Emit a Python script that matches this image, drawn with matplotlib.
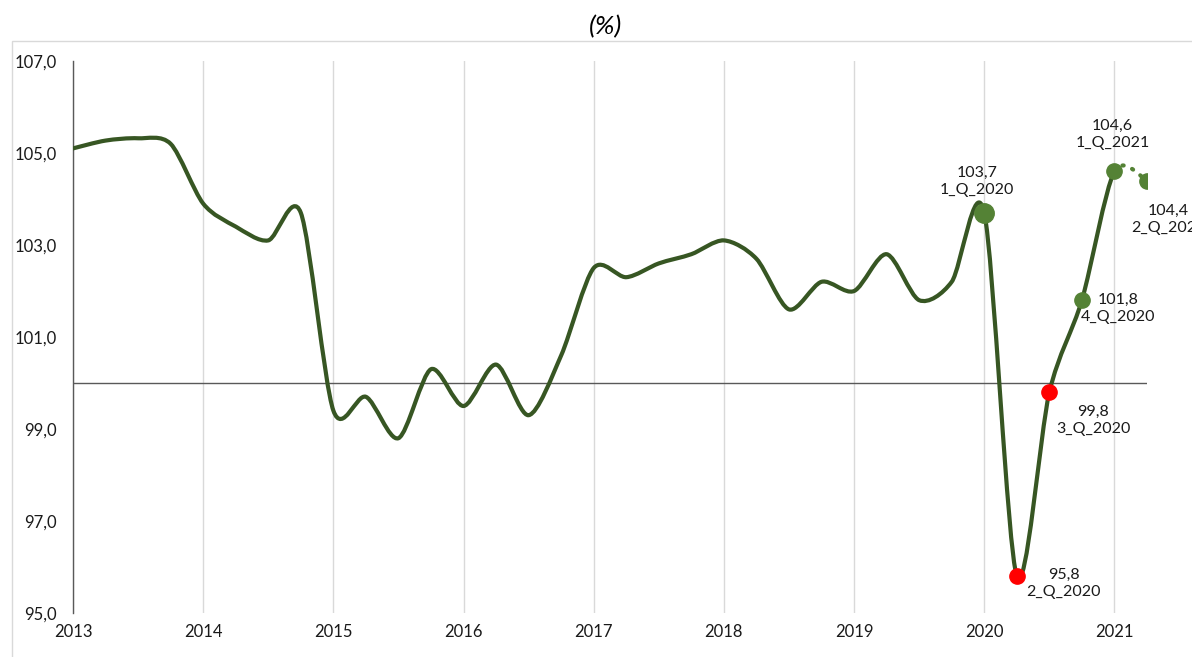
import numpy as np
import matplotlib
matplotlib.use("Agg")
import matplotlib.pyplot as plt
from matplotlib.path import Path
from matplotlib.patches import PathPatch, Rectangle

plt.rcParams['font.family'] = ['Lato', 'DejaVu Sans']

# ---- data (quarterly, starting 1st quarter 2013) ----
start_year = 2013
values = [105.1, 105.27, 105.32, 105.2,
          103.9, 103.4, 103.1, 103.7,
          99.4, 99.7, 98.8, 100.3,
          99.5, 100.4, 99.3, 100.6,
          102.5, 102.3, 102.6, 102.8,
          103.1, 102.7, 101.6, 102.2,
          102.0, 102.8, 101.8, 102.2,
          103.7, 95.8, 99.8, 101.8,
          104.6, 104.4]
year_ticks = [2013, 2014, 2015, 2016, 2017, 2018, 2019, 2020, 2021]
y_ticks = [95.0, 97.0, 99.0, 101.0, 103.0, 105.0, 107.0]
point_labels = {28: "103,7\n1_Q_2020", 29: "95,8\n2_Q_2020", 30: "99,8\n3_Q_2020",
                31: "101,8\n4_Q_2020", 32: "104,6\n1_Q_2021", 33: "104,4\n2_Q_2021"}
subtitle = "(%)"

x = start_year + 0.25 * np.arange(len(values))
y = np.array(values)

LINE = '#375623'
MGREEN = '#548235'
RED = '#FF0000'

fig = plt.figure(figsize=(11.92, 6.57), dpi=100)
# chart area border
fig.patches.append(Rectangle((12 / 1192, -0.1), 1.2, 0.1 + (657 - 41) / 657,
                             transform=fig.transFigure, fill=False,
                             edgecolor='#D9D9D9', lw=1.0, clip_on=False))
fig.text(605 / 1192, 1 - 27 / 657, subtitle, ha='center', va='center',
         fontsize=19, style='italic', color='black')

ax = fig.add_axes([73 / 1192, 1 - 613 / 657, (1147 - 73) / 1192, (613 - 61) / 657])
ax.set_xlim(2013, 2021.25)
ax.set_ylim(95, 107)

TENSION = 1 / 7.0


def smooth_path(xs, ys, i0, i1):
    n = len(xs)
    P = np.column_stack([xs, ys])
    verts = [P[i0]]
    codes = [Path.MOVETO]
    for i in range(i0, i1):
        pm = P[max(i - 1, 0)]
        p0 = P[i]
        p1 = P[i + 1]
        p2 = P[min(i + 2, n - 1)]
        c1 = p0 + (p1 - pm) * TENSION
        c2 = p1 - (p2 - p0) * TENSION
        verts += [c1, c2, p1]
        codes += [Path.CURVE4] * 3
    return Path(np.array(verts), codes)


main = smooth_path(x, y, 0, len(values) - 2)
ax.add_patch(PathPatch(main, fill=False, edgecolor=LINE, lw=3.0,
                       capstyle='round', joinstyle='round', zorder=3))
tail = smooth_path(x, y, len(values) - 2, len(values) - 1)
ax.add_patch(PathPatch(tail, fill=False, edgecolor=MGREEN, lw=3.0,
                       linestyle=(0, (0.3, 2.2)), capstyle='round', zorder=3))

# markers
for i in point_labels:
    col = RED if i in (29, 30) else MGREEN
    ms = 14 if i == 28 else 11
    ax.plot(x[i], y[i], 'o', ms=ms, color=col, mec=col, zorder=4)

# label offsets in image pixels (dx right, dy down)
offsets = {28: (-7, -31), 29: (47, 7), 30: (44, 28), 31: (36, 8),
           32: (-2, -37), 33: (21, 39)}
for i, txt in point_labels.items():
    dx, dy = offsets[i]
    ax.annotate(txt, (x[i], y[i]), xytext=(dx, -dy), textcoords='offset pixels',
                ha='center', va='center', fontsize=11.5, color='#1a1a1a',
                linespacing=1.3, annotation_clip=False, zorder=5)

ax.axhline(100, color='#595959', lw=1.0, zorder=2)
ax.set_xticks(year_ticks)
ax.set_xticklabels([str(v) for v in year_ticks])
ax.set_yticks(y_ticks)
ax.set_yticklabels([f"{v:.1f}".replace('.', ',') for v in y_ticks])
ax.tick_params(length=0, labelsize=12, labelcolor='#1a1a1a')
ax.tick_params(axis='x', pad=8)
ax.tick_params(axis='y', pad=11.5)
ax.grid(axis='x', color='#D9D9D9', lw=1.0)
ax.set_axisbelow(True)
for s in ['top', 'right', 'bottom']:
    ax.spines[s].set_visible(False)
ax.spines['left'].set_color('#595959')
ax.spines['left'].set_linewidth(1.0)

fig.savefig('out.png', dpi=100)
